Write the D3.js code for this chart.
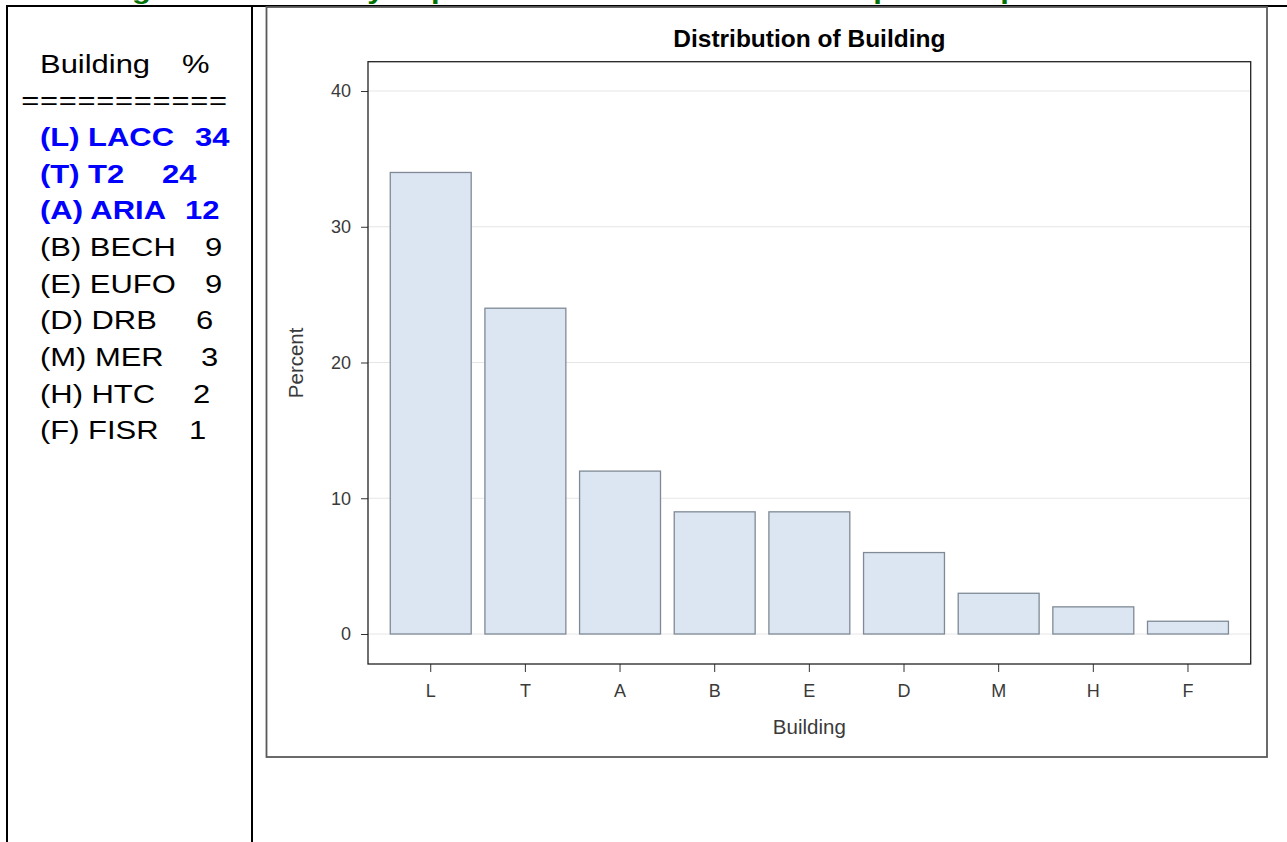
<!DOCTYPE html>
<html><head><meta charset="utf-8">
<script src="https://cdn.jsdelivr.net/npm/d3@7"></script>
<style>
body{margin:0;background:#fff}
svg{display:block}
text{font-family:"Liberation Sans",Arial,Helvetica,sans-serif}
</style>
</head><body>
<svg id="c" width="1287" height="842"></svg>
<script>
// ---------- data ----------
const categories = ["L","T","A","B","E","D","M","H","F"];
const percents   = [34, 24, 12, 9, 9, 6, 3, 2, 0.94];
const yTicks     = [0, 10, 20, 30, 40];
const tableCodes = ["L","T","A","B","E","D","M","H","F"];
const tableNames = ["LACC","T2","ARIA","BECH","EUFO","DRB","MER","HTC","FISR"];
const tablePct   = [34, 24, 12, 9, 9, 6, 3, 2, 1];
const highlighted = ["L","T","A"];
const chartTitle = "Distribution of Building";
const xLabel = "Building";
const yLabel = "Percent";
const tableHeader = ["Building", "%"];
const headingText = "Figure 2: Summary of percent for each Area vs. Sample total percent";

// ---------- layout ----------
const svg = d3.select("#c");
const SX = 1.19;            // horizontal stretch of the document text
const valueX = [195, 162, 185, 205, 205, 196, 201, 193, 189];
const frame = {x0: 368, x1: 1250.7, y0: 61.7, y1: 664};

function stext(x, y, str, opts) {
  const g = svg.append("g").attr("transform", `translate(${x},${y}) scale(${SX},1)`);
  const t = g.append("text").attr("x", 0).attr("y", 0).text(str)
    .style("font-size", (opts.size || 26) + "px")
    .style("font-weight", opts.bold ? "bold" : "normal")
    .style("letter-spacing", (opts.ls || 0) + "px")
    .attr("fill", opts.fill || "#000")
    .attr("text-anchor", opts.anchor || "start")
    .attr("xml:space", "preserve").style("white-space", "pre");
  return t;
}

// heading (cut off at top of the page, as in the reference)
stext(104.4, -1.5, headingText, {bold: true, fill: "#007000"});

// document table lines
const lines = [
  [6, 6, 1287, 6],
  [7, 5, 7, 842],
  [252, 5, 252, 842]
];
svg.selectAll("line.tbl").data(lines).enter().append("line")
  .attr("class", "tbl")
  .attr("x1", d => d[0]).attr("y1", d => d[1]).attr("x2", d => d[2]).attr("y2", d => d[3])
  .attr("stroke", "#000").attr("stroke-width", 2);

// left table text
const rowY = i => 72.7 + 36.67 * i;
stext(40, rowY(0), tableHeader[0], {});
stext(182, rowY(0), tableHeader[1], {});
stext(21.2, rowY(1), "=".repeat(11), {ls: 0.6});
tableCodes.forEach((c, i) => {
  const hi = highlighted.includes(c);
  const opt = {bold: hi, fill: hi ? "#0000ff" : "#000"};
  stext(40, rowY(i + 2), `(${c}) ${tableNames[i]}`, opt);
  stext(valueX[i], rowY(i + 2), String(tablePct[i]), opt);
});

// chart image border
svg.append("rect").attr("x", 266.5).attr("y", 7).attr("width", 1000.5).attr("height", 750)
  .attr("fill", "none").attr("stroke", "#5a5a5a").attr("stroke-width", 1.8);

// ---------- chart ----------
const x = d3.scaleBand().domain(categories).range([383.4, 1235.3])
  .paddingInner(0.145).paddingOuter(0.0725);
const y = d3.scaleLinear().domain([-2.21, 42.16]).range([frame.y1, frame.y0]);

// grid
svg.append("g").selectAll("line").data(yTicks).enter().append("line")
  .attr("x1", frame.x0).attr("x2", frame.x1)
  .attr("y1", d => y(d)).attr("y2", d => y(d))
  .attr("stroke", "#e6e6e6").attr("stroke-width", 1);

// bars
svg.append("g").selectAll("rect").data(categories).enter().append("rect")
  .attr("x", d => x(d))
  .attr("width", x.bandwidth())
  .attr("y", (d, i) => y(percents[i]))
  .attr("height", (d, i) => y(0) - y(percents[i]))
  .attr("fill", "#dce6f2").attr("stroke", "#7f8a96").attr("stroke-width", 1.3);

// axes
const yAxis = svg.append("g").attr("transform", `translate(${frame.x0},0)`)
  .call(d3.axisLeft(y).tickValues(yTicks).tickSize(7).tickPadding(10));
const xAxis = svg.append("g").attr("transform", `translate(0,${frame.y1})`)
  .call(d3.axisBottom(x).tickSize(8).tickPadding(12));
[yAxis, xAxis].forEach(a => {
  a.select(".domain").remove();
  a.selectAll(".tick line").attr("stroke", "#333");
  a.selectAll(".tick text").attr("fill", "#3a3a3a")
    .style("font-size", "18px").style("font-family", '"Liberation Sans",Arial,sans-serif');
});

// frame
svg.append("rect").attr("x", frame.x0).attr("y", frame.y0)
  .attr("width", frame.x1 - frame.x0).attr("height", frame.y1 - frame.y0)
  .attr("fill", "none").attr("stroke", "#222").attr("stroke-width", 1.3);

// title & labels
svg.append("text").attr("x", (frame.x0 + frame.x1) / 2).attr("y", 47.3)
  .attr("text-anchor", "middle").style("font-size", "24.5px").style("font-weight", "bold")
  .attr("fill", "#000").text(chartTitle);
svg.append("text").attr("x", (frame.x0 + frame.x1) / 2).attr("y", 734)
  .attr("text-anchor", "middle").style("font-size", "20.5px").attr("fill", "#3a3a3a").text(xLabel);
svg.append("text")
  .attr("transform", `translate(302.5,${(frame.y0 + frame.y1) / 2}) rotate(-90)`)
  .attr("text-anchor", "middle").style("font-size", "20.5px").attr("fill", "#3a3a3a").text(yLabel);
</script>
</body></html>
